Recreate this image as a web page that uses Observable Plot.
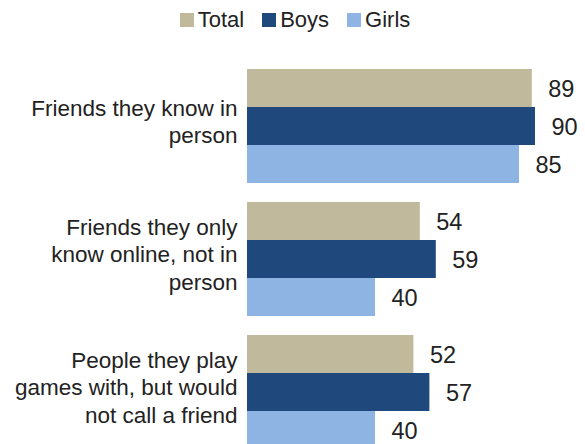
<!DOCTYPE html>
<html>
<head>
<meta charset="utf-8">
<script src="https://cdn.jsdelivr.net/npm/d3@7"></script>
<script src="https://cdn.jsdelivr.net/npm/@observablehq/plot@0.6"></script>
<style>
  html, body { margin: 0; padding: 0; background: #fff; overflow: hidden; }
  body { width: 585px; font-family: "Liberation Sans", Arial, sans-serif; color: #222; }
  #legend { height: 40px; display: flex; justify-content: center; align-items: center; font-size: 22px; padding-left: 5px; box-sizing: border-box; }
  .item { display: flex; align-items: center; margin: 0 9px; }
  .sw { width: 14px; height: 14px; margin-right: 4px; }
</style>
</head>
<body>
<div id="legend"></div>
<div id="chart"></div>
<script>
const categories = [
  "Friends they know in\nperson",
  "Friends they only\nknow online, not in\nperson",
  "People they play\ngames with, but would\nnot call a friend"
];
const series = ["Total", "Boys", "Girls"];
const totalValues = [89, 54, 52];
const boysValues = [90, 59, 57];
const girlsValues = [85, 40, 40];
const colors = ["#c0b99c", "#1f497c", "#8eb4e3"];

const valuesBySeries = [totalValues, boysValues, girlsValues];
const rows = [];
categories.forEach((c, i) => {
  series.forEach((s, j) => rows.push({category: c, series: s, value: valuesBySeries[j][i]}));
});

const legend = document.getElementById("legend");
series.forEach((s, j) => {
  const it = document.createElement("div");
  it.className = "item";
  const sw = document.createElement("div");
  sw.className = "sw";
  sw.style.background = colors[j];
  const t = document.createElement("span");
  t.textContent = s;
  it.appendChild(sw); it.appendChild(t);
  legend.appendChild(it);
});

const chart = Plot.plot({
  width: 585,
  height: 409,
  marginTop: 29,
  marginBottom: 0,
  marginLeft: 247,
  marginRight: 50,
  style: {fontFamily: "Liberation Sans, Arial, sans-serif", color: "#222", background: "#fff"},
  x: {domain: [0, 90], axis: null},
  y: {domain: series, axis: null, padding: 0},
  fy: {domain: categories, axis: null, paddingInner: 0.143, paddingOuter: 0},
  color: {domain: series, range: colors},
  marks: [
    Plot.barX(rows, {fy: "category", y: "series", x: "value", fill: "series"}),
    Plot.text(rows, {fy: "category", y: "series", x: "value", text: d => String(d.value),
      textAnchor: "start", dx: 16, dy: 1, fontSize: 23.5, fill: "#222"}),
    Plot.text(categories, {fy: d => d, text: d => d, frameAnchor: "left", textAnchor: "end",
      dx: -10, dy: -6, fontSize: 22.5, lineHeight: 1.22, fill: "#222"})
  ]
});
document.getElementById("chart").appendChild(chart);
</script>
</body>
</html>
